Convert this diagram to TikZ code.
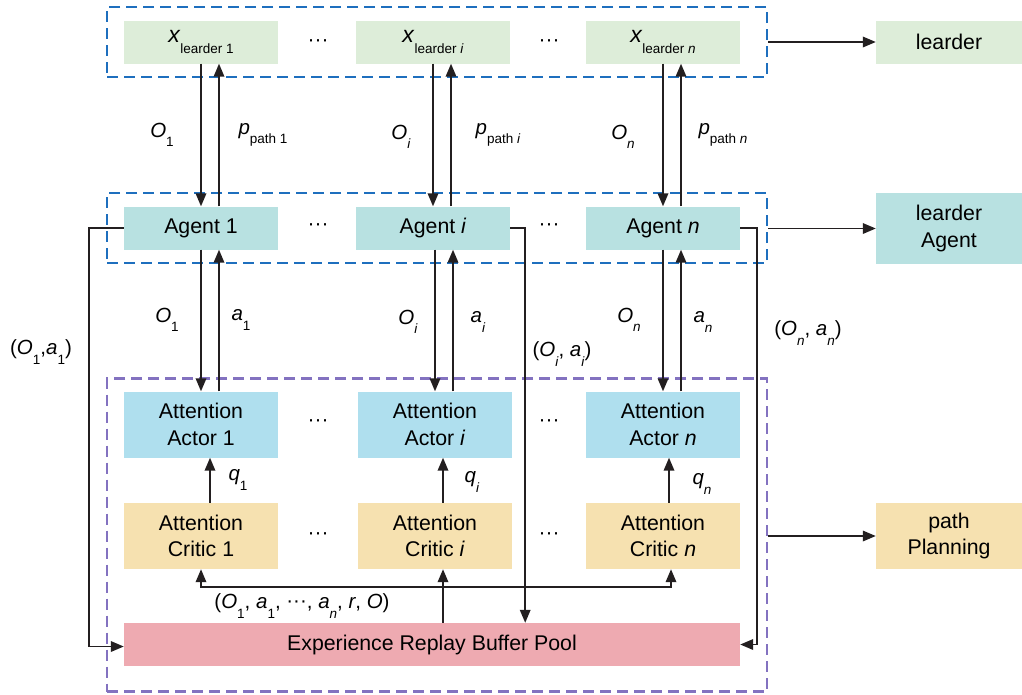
\documentclass[tikz,border=0pt]{standalone}
\usepackage{fontspec}
\setmainfont{Liberation Sans}
\usetikzlibrary{arrows.meta,calc}
\definecolor{cgreen}{HTML}{DDEDD9}
\definecolor{cagent}{HTML}{B8E1E1}
\definecolor{cactor}{HTML}{AFDFEE}
\definecolor{ccritic}{HTML}{F6E1B0}
\definecolor{cbuf}{HTML}{EEAAB1}
\definecolor{cblue}{HTML}{1E6FBE}
\definecolor{cpurple}{HTML}{8372C0}
\definecolor{cline}{HTML}{231F20}
\newcommand{\mi}[1]{\textit{#1}}
\newcommand{\sbs}[1]{\raisebox{-0.45em}{\fontsize{13.5}{14}\selectfont #1}}
\newcommand{\dts}{\raisebox{0.05em}{\char"B7\char"B7\char"B7}}
\begin{document}
\begin{tikzpicture}[x=1pt,y=-1pt,
  box/.style={draw=none, minimum width=154pt, minimum height=43pt, align=center, inner sep=0pt, font=\fontsize{21.3}{26.5}\selectfont},
  tall/.style={box, minimum height=66pt},
  side/.style={box, minimum width=146pt},
  grp/.style={draw=cblue, line width=2.6pt, dash pattern=on 11pt off 6pt, minimum width=660pt, inner sep=0pt},
  arr/.style={-{Triangle[length=13pt,width=10.5pt]}, line width=1.8pt, draw=cline},
  lbl/.style={inner sep=0pt, font=\fontsize{20.5}{22}\selectfont},
  dotlbl/.style={inner sep=0pt, font=\fontsize{21}{22}\selectfont}]
\useasboundingbox (0,0) rectangle (1022,694);
% group boxes
\node[grp, minimum height=70pt] (g1) at (437,42) {};
\node[grp, minimum height=70pt] (g2) at (437,228) {};
\node[grp, draw=cpurple, minimum height=313pt] (g3) at (437,535) {};
% top row
\node[box, fill=cgreen] (xl1) at (201,42) {\fontsize{23}{26}\selectfont\mi{x}\sbs{learder 1}};
\node[box, fill=cgreen] (xli) at (433,42) {\fontsize{23}{26}\selectfont\mi{x}\sbs{learder \mi{i}}};
\node[box, fill=cgreen] (xln) at (663,42) {\fontsize{23}{26}\selectfont\mi{x}\sbs{learder \mi{n}}};
\node[side, fill=cgreen] (ld) at (949,42) {learder};
% agents
\node[box, fill=cagent] (ag1) at (201,228) {Agent 1};
\node[box, fill=cagent] (agi) at (433,228) {Agent \mi{i}};
\node[box, fill=cagent] (agn) at (663,228) {Agent \mi{n}};
\node[side, fill=cagent, minimum height=71pt] (lag) at (949,228.5) {learder\\Agent};
% actors
\node[tall, fill=cactor] (ac1) at (201,424.5) {Attention\\Actor 1};
\node[tall, fill=cactor] (aci) at (435,424.5) {Attention\\Actor \mi{i}};
\node[tall, fill=cactor] (acn) at (663,424.5) {Attention\\Actor \mi{n}};
% critics
\node[tall, fill=ccritic] (cr1) at (201,536) {Attention\\Critic 1};
\node[tall, fill=ccritic] (cri) at (435,536) {Attention\\Critic \mi{i}};
\node[tall, fill=ccritic] (crn) at (663,536) {Attention\\Critic \mi{n}};
\node[side, fill=ccritic, minimum height=66pt] (pp) at (949,536) {path\\Planning};
% buffer
\node[box, fill=cbuf, minimum width=616pt] (buf) at (432,644.5) {Experience Replay Buffer Pool};
% dots
\foreach \yy/\nm in {44/a,228/b,424/c,537/d}{
  \node[dotlbl] (dl\nm) at (318,\yy) {\dts};
  \node[dotlbl] (dr\nm) at (549,\yy) {\dts};
}
% top <-> agent arrows
\foreach \t/\a in {xl1/ag1, xli/agi, xln/agn}{
  \draw[arr] (\t.south) -- (\t.south |- \a.north);
  \draw[arr] ([xshift=18pt]\t.south |- \a.north) -- ([xshift=18pt]\t.south);
}
\draw[arr] (ag1.south) -- (ag1.south |- ac1.north);
\draw[arr] ([xshift=18pt]ag1.south |- ac1.north) -- ([xshift=18pt]ag1.south);
\draw[arr] ([xshift=2pt]agi.south) -- ([xshift=2pt]agi.south |- aci.north);
\draw[arr] ([xshift=20pt]agi.south |- aci.north) -- ([xshift=20pt]agi.south);
\draw[arr] (agn.south) -- (agn.south |- acn.north);
\draw[arr] ([xshift=18pt]agn.south |- acn.north) -- ([xshift=18pt]agn.south);
% q arrows
\draw[arr] ([xshift=9pt]cr1.north) -- ([xshift=9pt]ac1.south);
\draw[arr] ([xshift=8pt]cri.north) -- ([xshift=8pt]aci.south);
\draw[arr] ([xshift=6pt]crn.north) -- ([xshift=6pt]acn.south);
% bracket from buffer to critics
\coordinate (bj) at (443,587);
\draw[arr] (bj) -| (cr1.south);
\draw[arr] (bj) -| ([xshift=8pt]crn.south);
\draw[arr] (buf.north -| bj) -- (cri.south -| bj);
% agent to buffer lines
\draw[arr] (ag1.west) -- ++(-35,0) |- ([yshift=-2pt]buf.west);
\draw[arr] (agi.east) -- ++(15,0) coordinate (ti) -- (ti |- buf.north);
\draw[arr] (agn.east) -- ++(17,0) |- (buf.east);
% right arrows
\draw[arr] (g1.east |- ld.west) -- (ld.west);
\draw[arr] (g2.east |- lag.west) -- (lag.west);
\draw[arr] (g3.east |- pp.west) -- (pp.west);
% labels
\node[lbl] (l1) at (162,135) {\mi{O}\sbs{1}};
\node[lbl] (l2) at (263,135) {\mi{p}\sbs{path 1}};
\node[lbl] (l3) at (401,137) {\mi{O}\sbs{\mi{i}}};
\node[lbl] (l4) at (498,135) {\mi{p}\sbs{path \mi{i}}};
\node[lbl] (l5) at (623,137) {\mi{O}\sbs{\mi{n}}};
\node[lbl] (l6) at (723,135) {\mi{p}\sbs{path \mi{n}}};
\node[lbl] (m1) at (167,320) {\mi{O}\sbs{1}};
\node[lbl] (m2) at (241,320) {\mi{a}\sbs{1}};
\node[lbl] (m3) at (408,322) {\mi{O}\sbs{\mi{i}}};
\node[lbl] (m4) at (478,322) {\mi{a}\sbs{\mi{i}}};
\node[lbl] (m5) at (629,320) {\mi{O}\sbs{\mi{n}}};
\node[lbl] (m6) at (703,322) {\mi{a}\sbs{\mi{n}}};
\node[lbl] (p1) at (41,352) {(\mi{O}\sbs{1},\mi{a}\sbs{1})};
\node[lbl] (p2) at (562,354) {(\mi{O}\sbs{\mi{i}}, \mi{a}\sbs{\mi{i}})};
\node[lbl] (p3) at (808,333) {(\mi{O}\sbs{\mi{n}}, \mi{a}\sbs{\mi{n}})};
\node[lbl] (q1) at (238,480) {\mi{q}\sbs{1}};
\node[lbl] (q2) at (472,482) {\mi{q}\sbs{\mi{i}}};
\node[lbl] (q3) at (702,484) {\mi{q}\sbs{\mi{n}}};
\node[lbl] (tu) at (302,606) {(\mi{O}\sbs{1}, \mi{a}\sbs{1}, \dts, \mi{a}\sbs{\mi{n}}, \mi{r}, \mi{O})};
\end{tikzpicture}
\end{document}
